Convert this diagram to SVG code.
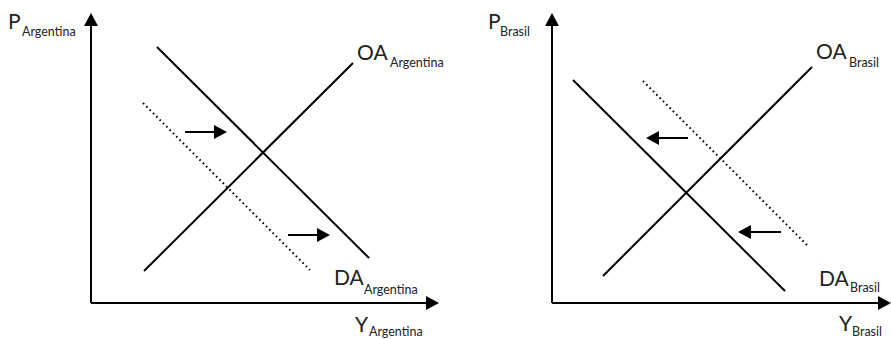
<svg xmlns="http://www.w3.org/2000/svg" width="891" height="339" viewBox="0 0 891 339">
<style>
.ln{stroke:#000;stroke-width:2;fill:none}
.dot{stroke:#000;stroke-width:2;fill:none;stroke-dasharray:1.6 3.1}
.big{font-family:Lato,"Noto Sans",sans-serif;font-size:21px;fill:#222}
.sub{font-family:Lato,"Noto Sans",sans-serif;font-size:12.5px;fill:#222}
</style>
<defs>
<marker id="ah" markerUnits="userSpaceOnUse" markerWidth="13" markerHeight="14" refX="1" refY="7" orient="auto">
<path d="M0,0 L13,7 L0,14 z" fill="#000"/>
</marker>
</defs>
<rect width="891" height="339" fill="#fff"/>
<g id="chart-argentina">
<g id="axes-argentina">
<path class="ln" d="M91,303 L91,25" marker-end="url(#ah)"/>
<path class="ln" d="M91,303 L427,303" marker-end="url(#ah)"/>
</g>
<g id="curves-argentina">
<line id="oa-argentina" class="ln" x1="144" y1="271" x2="353" y2="63"/>
<line id="da-argentina" class="ln" x1="157" y1="47" x2="369" y2="258"/>
<line id="da-argentina-new" class="dot" x1="143" y1="103" x2="310" y2="270"/>
</g>
<g id="shift-arrows-argentina">
<path class="ln" d="M185,132 L215,132" marker-end="url(#ah)"/>
<path class="ln" d="M288,235 L318,235" marker-end="url(#ah)"/>
</g>
<g id="labels-argentina">
<text class="big" x="8" y="29">P</text><text class="sub" x="22" y="36">Argentina</text>
<text class="big" x="357" y="60">OA</text><text class="sub" x="390" y="67">Argentina</text>
<text class="big" x="334" y="285">DA</text><text class="sub" x="364" y="294">Argentina</text>
<text class="big" x="355" y="332">Y</text><text class="sub" x="369" y="336">Argentina</text>
</g>
</g>
<g id="chart-brasil">
<g id="axes-brasil">
<path class="ln" d="M552,303 L552,25" marker-end="url(#ah)"/>
<path class="ln" d="M552,303 L879,303" marker-end="url(#ah)"/>
</g>
<g id="curves-brasil">
<line id="oa-brasil" class="ln" x1="603" y1="276" x2="812" y2="67"/>
<line id="da-brasil" class="ln" x1="573" y1="80" x2="785" y2="291"/>
<line id="da-brasil-new" class="dot" x1="643" y1="81" x2="809" y2="247"/>
</g>
<g id="shift-arrows-brasil">
<path class="ln" d="M688,138 L658,138" marker-end="url(#ah)"/>
<path class="ln" d="M781,232 L750,232" marker-end="url(#ah)"/>
</g>
<g id="labels-brasil">
<text class="big" x="488" y="29">P</text><text class="sub" x="500" y="36">Brasil</text>
<text class="big" x="816" y="59">OA</text><text class="sub" x="849" y="67">Brasil</text>
<text class="big" x="819" y="286">DA</text><text class="sub" x="850" y="292">Brasil</text>
<text class="big" x="839" y="331">Y</text><text class="sub" x="852" y="336">Brasil</text>
</g>
</g>
</svg>
